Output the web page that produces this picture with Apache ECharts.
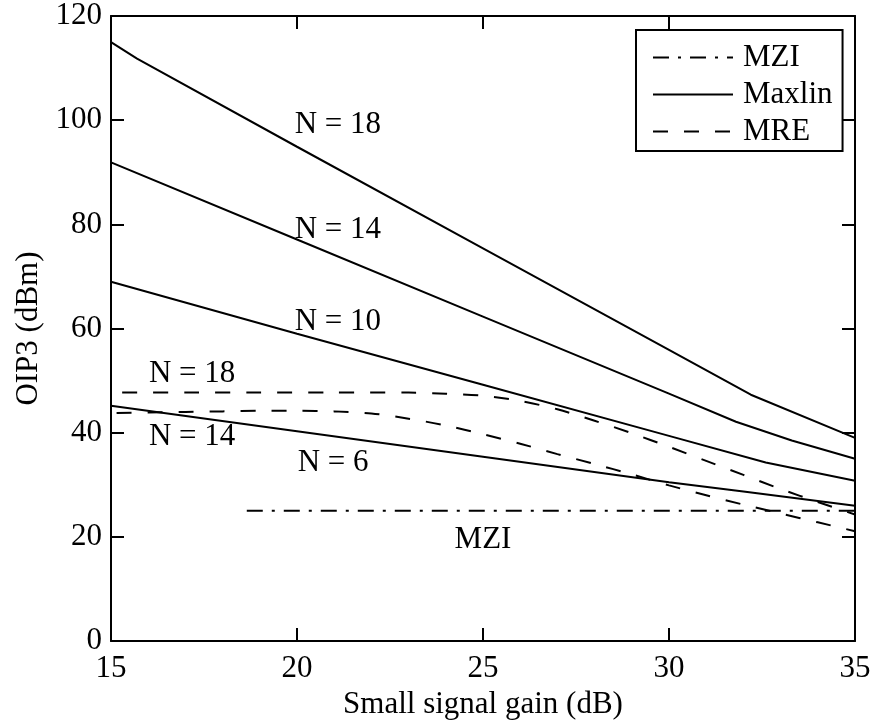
<!DOCTYPE html>
<html>
<head>
<meta charset="utf-8">
<title>OIP3 vs small signal gain</title>
<script src="https://cdn.jsdelivr.net/npm/echarts@6/dist/echarts.min.js"></script>
<style>
  html, body { margin: 0; padding: 0; background: #fff; }
  #chart { width: 874px; height: 725px; }
</style>
</head>
<body>
<div id="chart"></div>
<script>
// Small signal gain (dB) and OIP3 (dBm) for each modulator design
const mziGain = [18.65, 35];
const mziOip3 = [25, 25];

const maxlin18Gain = [15, 15.7, 20, 25, 30, 32.2, 35];
const maxlin18Oip3 = [115, 111.8, 94.9, 75.4, 55.9, 47.3, 39.0];
const maxlin14Gain = [15, 20, 25, 30, 31.8, 33.3, 35];
const maxlin14Oip3 = [91.9, 77.1, 62.3, 47.5, 42.1, 38.5, 35.0];
const maxlin10Gain = [15, 20, 25, 30, 32.6, 35];
const maxlin10Oip3 = [69, 59, 49.2, 39.4, 34.3, 30.8];
const maxlin6Gain = [15, 20, 25, 30, 32, 35];
const maxlin6Oip3 = [45.2, 40.3, 35.4, 30.5, 28.7, 26.0];

const mre18Gain = [15.3, 17, 19, 21, 23, 24, 25, 26, 27, 28, 29, 30, 31, 32, 33, 34, 35];
const mre18Oip3 = [47.7, 47.7, 47.7, 47.7, 47.7, 47.5, 47.1, 46.1, 44.5, 42.3, 39.9, 37.3, 34.6, 31.9, 29.2, 26.7, 24.3];
const mre14Gain = [15.15, 16, 17, 18, 19, 20, 21, 22, 23, 24, 25, 26, 27, 28, 29, 30, 31, 32, 33, 34, 35];
const mre14Oip3 = [43.8, 43.9, 44.0, 44.1, 44.2, 44.2, 44.1, 43.7, 42.7, 41.4, 39.7, 37.9, 35.9, 34.0, 32.0, 29.9, 28.0, 26.2, 24.5, 22.8, 21.1];

// In-plot annotations
const noteText = ['N = 18', 'N = 14', 'N = 10', 'N = 18', 'N = 14', 'N = 6', 'MZI'];
const noteGain = [21.1, 21.1, 21.1, 17.18, 17.18, 20.97, 25.0];
const noteOip3 = [99.1, 79.0, 61.2, 51.3, 39.2, 34.2, 19.4];

const legendNames = ['MZI', 'Maxlin', 'MRE'];
const xTicks = { min: 15, max: 35, interval: 5 };
const yTicks = { min: 0, max: 120, interval: 20 };

const FONT = '"Liberation Serif", "Times New Roman", serif';
const FS = 31;

const zip = (xs, ys) => xs.map((x, i) => [x, ys[i]]);

function curve(name, xs, ys, dash, smooth) {
  return {
    type: 'line',
    name: name,
    data: zip(xs, ys),
    symbol: 'none',
    smooth: smooth || false,
    silent: true,
    lineStyle: { color: '#000', width: 2, type: dash },
    itemStyle: { color: '#000' },
    z: 2
  };
}

const dashed = [15, 16];
const dashDot = [16, 9, 3, 9];

const axisCommon = {
  axisLine: { show: true, onZero: false, lineStyle: { color: '#000', width: 2 } },
  axisTick: { show: true, inside: true, length: 13, lineStyle: { color: '#000', width: 2 } },
  splitLine: { show: false }
};

const chart = echarts.init(document.getElementById('chart'), null, { renderer: 'canvas' });

chart.setOption({
  backgroundColor: '#fff',
  animation: false,
  textStyle: { fontFamily: FONT, color: '#000' },
  grid: { left: 111, right: 19, top: 16, bottom: 83, containLabel: false },
  legend: {
    data: legendNames,
    orient: 'vertical',
    left: 636,
    top: 30,
    itemWidth: 80,
    itemHeight: 14,
    itemGap: 0,
    padding: [9, 10, 1, 16],
    backgroundColor: '#fff',
    borderColor: '#000',
    borderWidth: 2,
    borderRadius: 0,
    selectedMode: false,
    itemStyle: { opacity: 0 },
    textStyle: { fontFamily: FONT, fontSize: FS, color: '#000', lineHeight: 37, padding: [0, 0, 0, 5] }
  },
  xAxis: [
    Object.assign({
      type: 'value', position: 'bottom',
      min: xTicks.min, max: xTicks.max, interval: xTicks.interval,
      name: 'Small signal gain (dB)', nameLocation: 'middle', nameGap: 44,
      nameTextStyle: { fontFamily: FONT, fontSize: FS, color: '#000' },
      axisLabel: { fontFamily: FONT, fontSize: FS, color: '#000', margin: 12 }
    }, axisCommon),
    Object.assign({
      type: 'value', position: 'top',
      min: xTicks.min, max: xTicks.max, interval: xTicks.interval,
      axisLabel: { show: false }
    }, axisCommon)
  ],
  yAxis: [
    Object.assign({
      type: 'value', position: 'left',
      min: yTicks.min, max: yTicks.max, interval: yTicks.interval,
      name: 'OIP3 (dBm)', nameLocation: 'middle', nameGap: 67,
      nameTextStyle: { fontFamily: FONT, fontSize: FS, color: '#000' },
      axisLabel: { fontFamily: FONT, fontSize: FS, color: '#000', margin: 9 }
    }, axisCommon),
    Object.assign({
      type: 'value', position: 'right',
      min: yTicks.min, max: yTicks.max, interval: yTicks.interval,
      axisLabel: { show: false }
    }, axisCommon)
  ],
  series: [
    curve('MZI', mziGain, mziOip3, dashDot),
    curve('Maxlin', maxlin18Gain, maxlin18Oip3, 'solid'),
    curve('Maxlin', maxlin14Gain, maxlin14Oip3, 'solid'),
    curve('Maxlin', maxlin10Gain, maxlin10Oip3, 'solid'),
    curve('Maxlin', maxlin6Gain, maxlin6Oip3, 'solid'),
    curve('MRE', mre18Gain, mre18Oip3, dashed, 0.3),
    curve('MRE', mre14Gain, mre14Oip3, dashed, 0.3),
    {
      type: 'scatter',
      name: 'notes',
      silent: true,
      symbolSize: 0,
      itemStyle: { color: '#000', opacity: 1 },
      data: noteGain.map((g, i) => ({ value: [g, noteOip3[i]], text: noteText[i] })),
      label: {
        show: true,
        position: 'inside',
        formatter: p => p.data.text,
        fontFamily: FONT,
        fontSize: FS,
        color: '#000',
        opacity: 1,
        textBorderWidth: 0
      },
      z: 3
    }
  ]
});
</script>
</body>
</html>
